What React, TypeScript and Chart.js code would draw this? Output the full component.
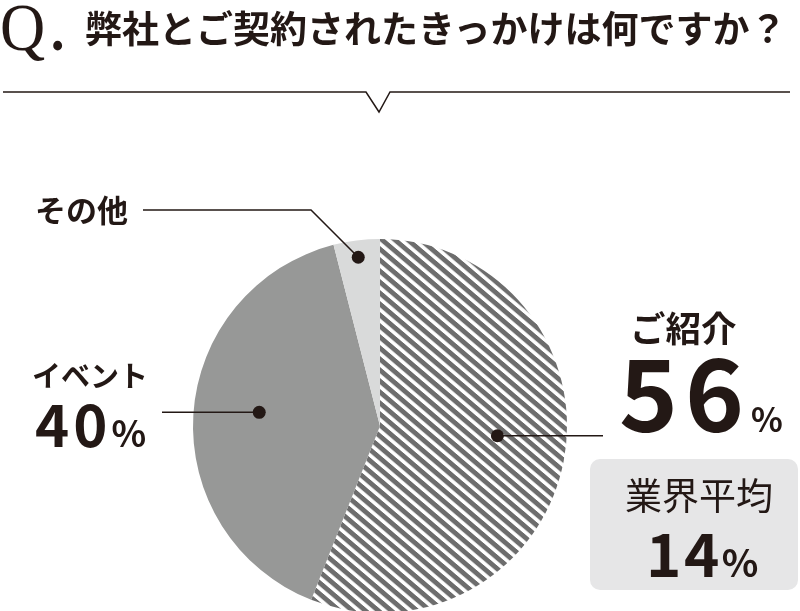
import { useEffect, useRef } from 'react';
import { Chart, registerables } from 'chart.js';
Chart.register(...registerables);

const title = '弊社とご契約されたきっかけは何ですか？';
const categories = ['ご紹介', 'イベント', 'その他'];
const shares = [56, 40, 4];
const avgLabel = '業界平均';
const avgShare = 14;

const INK = '#231815';
const JP = '"Noto Sans CJK JP", "Noto Sans", sans-serif';

// where each callout dot sits inside its slice: t = along the arc, r = share of the radius
const DOTS = [
  { t: 0.47, r: 0.63 },
  { t: 0.52, r: 0.65 },
  { t: 0.49, r: 0.91 },
];

function stripes(ctx: CanvasRenderingContext2D) {
  const tile = document.createElement('canvas');
  tile.width = 4;
  tile.height = 22;
  const t = tile.getContext('2d')!;
  t.fillStyle = '#ffffff';
  t.fillRect(0, 0, 4, 22);
  t.fillStyle = '#6d6d6d';
  t.fillRect(0, 0, 4, 6.3);
  t.fillRect(0, 11, 4, 6.3);
  const p = ctx.createPattern(tile, 'repeat')!;
  p.setTransform(new DOMMatrix([1, 0.85, 0, 1, 0, 0]));
  return p;
}

const callouts = {
  id: 'callouts',
  afterDatasetsDraw(chart: any) {
    const { ctx } = chart;
    const arcs = chart.getDatasetMeta(0).data;
    ctx.save();
    ctx.strokeStyle = INK;
    ctx.fillStyle = INK;
    ctx.lineWidth = 1.5;
    arcs.forEach((arc: any, i: number) => {
      const { x, y, startAngle, endAngle, outerRadius } = arc.getProps(
        ['x', 'y', 'startAngle', 'endAngle', 'outerRadius'],
        true
      );
      const a = startAngle + (endAngle - startAngle) * DOTS[i].t;
      const px = x + Math.cos(a) * outerRadius * DOTS[i].r;
      const py = y + Math.sin(a) * outerRadius * DOTS[i].r;
      ctx.beginPath();
      if (i === 0) {
        ctx.moveTo(px, py);
        ctx.lineTo(603, py);
      } else if (i === 1) {
        ctx.moveTo(162, py);
        ctx.lineTo(px, py);
      } else {
        ctx.moveTo(143, 210);
        ctx.lineTo(px - (py - 210), 210);
        ctx.lineTo(px, py);
      }
      ctx.stroke();
      ctx.beginPath();
      ctx.arc(px, py, 6.5, 0, Math.PI * 2);
      ctx.fill();
    });
    ctx.restore();
  },
};

function T(props: { left: number; top: number; size: number; weight?: number; family?: string; style?: any; children: any }) {
  return (
    <div
      style={{
        position: 'absolute',
        left: props.left,
        top: props.top,
        fontSize: props.size,
        fontWeight: props.weight ?? 700,
        fontFamily: props.family ?? JP,
        lineHeight: 1,
        whiteSpace: 'nowrap',
        color: INK,
        ...props.style,
      }}
    >
      {props.children}
    </div>
  );
}

export default function App() {
  const ref = useRef<HTMLCanvasElement | null>(null);
  useEffect(() => {
    if (!ref.current) return;
    const ctx = ref.current.getContext('2d')!;
    const c = new Chart(ctx, {
      type: 'pie',
      data: {
        labels: categories,
        datasets: [
          {
            data: shares,
            backgroundColor: [stripes(ctx), '#979897', '#d9dada'],
            borderWidth: 0,
          },
        ],
      },
      options: {
        responsive: false,
        animation: false,
        events: [],
        layout: { padding: { left: 193, right: 233, top: 239, bottom: 27 } },
        plugins: { legend: { display: false }, tooltip: { enabled: false } },
      },
      plugins: [callouts],
    });
    return () => c.destroy();
  }, []);

  return (
    <div style={{ position: 'absolute', left: 0, top: 0, width: 800, height: 611, overflow: 'hidden', background: '#fff' }}>
      <canvas ref={ref} width={800} height={640} style={{ position: 'absolute', left: 0, top: 0 }} />

      <T left={0} top={-7} size={68} weight={400} family='"Liberation Serif", serif' style={{ transform: 'scaleX(0.92)', transformOrigin: 'left' }}>
        Q<span style={{ marginLeft: 6, fontWeight: 700, fontSize: 60 }}>.</span>
      </T>
      <T left={85} top={8.5} size={37}>{title}</T>
      <svg width={800} height={120} style={{ position: 'absolute', left: 0, top: 0 }}>
        <polyline points="3,92 366,92 379,112 390,92 790,92" fill="none" stroke={INK} strokeWidth={1.5} />
      </svg>

      <T left={35} top={193} size={31}>{categories[2]}</T>
      <T left={32} top={359.5} size={29}>{categories[1]}</T>
      <T left={35} top={392.7} size={58} style={{ letterSpacing: 4 }}>
        {shares[1]}
        <span style={{ fontSize: 36, letterSpacing: 0 }}>%</span>
      </T>

      <T left={630} top={309.4} size={35.5}>{categories[0]}</T>
      <T left={619} top={339.4} size={100} style={{ letterSpacing: 7 }}>
        {shares[0]}
        <span style={{ fontSize: 33, letterSpacing: 0 }}>%</span>
      </T>

      <div style={{ position: 'absolute', left: 590, top: 459, width: 208, height: 131, borderRadius: 10, background: '#e6e6e7' }} />
      <T left={625} top={476} size={37} weight={400}>{avgLabel}</T>
      <T left={646} top={520.8} size={60} style={{ letterSpacing: 2.5 }}>
        {avgShare}
        <span style={{ fontSize: 38, letterSpacing: 0 }}>%</span>
      </T>
    </div>
  );
}
